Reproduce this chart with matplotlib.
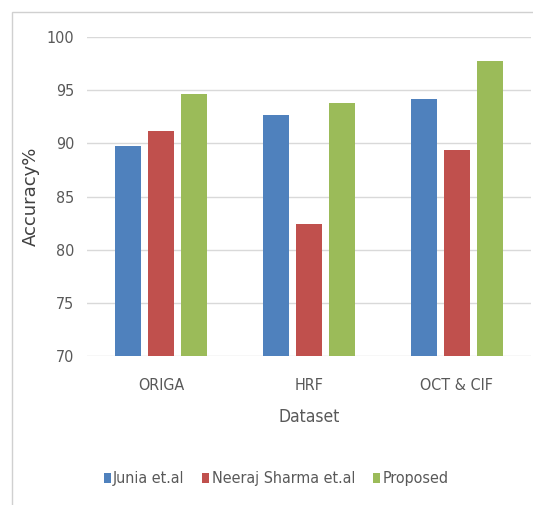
import numpy as np
import matplotlib.pyplot as plt
from matplotlib.patches import Rectangle
from matplotlib import font_manager

# accuracy per dataset for each method
datasets = ['ORIGA', 'HRF', 'OCT & CIF']
junia = [89.75, 92.65, 94.15]
sharma = [91.15, 82.45, 89.4]
proposed = [94.6, 93.75, 97.75]
methods = ['Junia et.al', 'Neeraj Sharma et.al', 'Proposed']
colors = ['#4F81BD', '#C0504D', '#9BBB59']

W, H = 533, 505
fig = plt.figure(figsize=(W / 100, H / 100), dpi=100)
ax = fig.add_axes([87 / W, (H - 356) / H, 444 / W, 319 / H])

fp = font_manager.FontProperties(family='DejaVu Sans', stretch='condensed', size=11.5)
fp_lab = font_manager.FontProperties(family='DejaVu Sans', stretch='condensed', size=12.5)
grey = '#595959'

x = np.arange(len(datasets))
width = 0.178
step = 0.222
for i, (vals, name, c) in enumerate(zip([junia, sharma, proposed], methods, colors)):
    ax.bar(x + (i - 1) * step, vals, width, color=c, label=name, zorder=3)

ax.set_xlim(-0.5, 2.5)
ax.set_ylim(70, 100)
ax.set_yticks(range(70, 101, 5))
ax.yaxis.grid(True, color='#D9D9D9', linewidth=1, zorder=0)
for s in ax.spines.values():
    s.set_visible(False)
ax.tick_params(axis='both', length=0, colors=grey)
ax.tick_params(axis='y', pad=9)
ax.tick_params(axis='x', pad=16)
ax.set_xticks(x)
ax.set_xticklabels(datasets)
for lab in ax.get_xticklabels() + ax.get_yticklabels():
    lab.set_fontproperties(fp)

ax.set_xlabel('Dataset', fontproperties=fp_lab, color=grey, labelpad=11)
ax.set_ylabel('Accuracy%', family='DejaVu Sans', fontsize=13, color='#404040', labelpad=5)

fig.legend(loc='center', bbox_to_anchor=(276 / W, (H - 479) / H), ncol=3, frameon=False,
           prop=fp, labelcolor=grey,
           handlelength=0.45, handleheight=0.65, handletextpad=0.15, columnspacing=1.1)

# thin outer frame along top and left
fig.add_artist(Rectangle((12 / W, -0.1), 1.2, (H - 12) / H + 0.1, transform=fig.transFigure,
                         fill=False, edgecolor='#D0D0D0', linewidth=1))

fig.savefig('out.png', dpi=100)
